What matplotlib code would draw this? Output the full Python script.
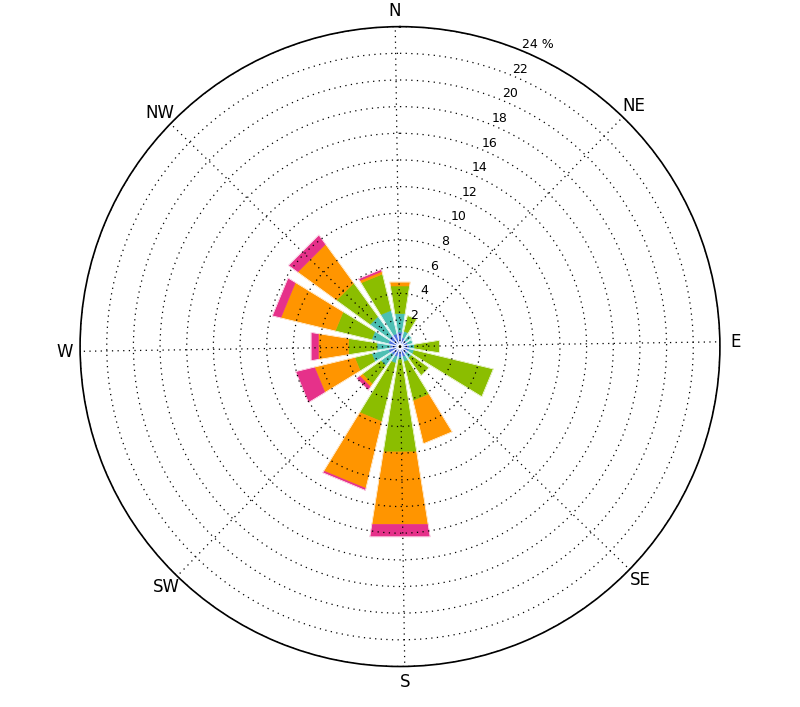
import numpy as np
import matplotlib.pyplot as plt

# wind rose, 16 sectors, frequency (%) per speed bin
directions = ["N", "NNE", "NE", "ENE", "E", "ESE", "SE", "SSE",
              "S", "SSW", "SW", "WSW", "W", "WNW", "NW", "NNW"]
blue    = [1.1, 0.7, 0.6, 0.6, 0.7, 0.7, 0.7, 0.8, 0.8, 0.8, 0.8, 0.9, 0.75, 0.9, 1.0, 1.0]
teal    = [1.4, 0.5, 0.5, 0.4, 0.4, 0.4, 0.4, 0.4, 0.2, 0.5, 1.0, 1.3, 1.0, 1.3, 1.8, 1.8]
green   = [2.1, 1.2, 0.0, 0.0, 1.9, 6.1, 1.6, 3.0, 7.0, 4.5, 1.7, 1.3, 2.15, 2.8, 3.1, 2.8]
orange  = [0.3, 0.0, 0.0, 0.0, 0.0, 0.0, 0.0, 3.3, 5.5, 5.15, 0.25, 3.1, 2.3, 4.2, 3.6, 0.2]
magenta = [0.0, 0.0, 0.0, 0.0, 0.0, 0.0, 0.0, 0.0, 0.95, 0.15, 0.3, 1.45, 0.55, 0.65, 0.85, 0.16]

bins = [blue, teal, green, orange, magenta]
colors = ["#4f6fdf", "#4dbfb3", "#8bbe00", "#ff9500", "#e6318a"]

compass = ["N", "NE", "E", "SE", "S", "SW", "W", "NW"]
rticks = np.arange(2, 26, 2)

fig = plt.figure(figsize=(8, 7.07), dpi=100)
ax = fig.add_axes([0.1, 0.0573, 0.8, 0.905], projection="polar")
ax.set_theta_zero_location("N")
ax.set_theta_direction(-1)

n = len(directions)
theta = np.radians(np.arange(n) * 360.0 / n)
half = np.radians(360.0 / n * 0.8) / 2
bottom = np.zeros(n)
for vals, c in zip(bins, colors):
    for i, (t, b, h) in enumerate(zip(theta, bottom, vals)):
        if h <= 0:
            continue
        # straight-edged sectors, like the old windrose bars
        ax.fill([t - half, t + half, t + half, t - half],
                [b, b, b + h, b + h], color=c, ec=c, lw=0.4, zorder=1)
    bottom = bottom + np.array(vals)

# thin white outline round each whole sector (gaps near the centre)
for t, tot in zip(theta, bottom):
    ax.fill([t - half, t + half, t + half, t - half], [0, 0, tot, tot],
            fc="none", ec="white", lw=0.5, zorder=1.2)

ax.set_ylim(0, 24)
ax.set_yticks(rticks)
ax.set_yticklabels([])
# the angular grid in the source is a hair off true north
ax.set_thetagrids((np.arange(0, 360, 45) - 0.85) % 360, compass, fontsize=12)
ax.set_thetalim(0, 2 * np.pi)
ax.tick_params(axis="x", pad=0.5)
ax.set_axisbelow(False)
ax.grid(True, color="black", linestyle=(0, (1, 3.5)), linewidth=0.9)
ax.spines["polar"].set_linewidth(1.2)

for r in rticks:
    lab = str(r) if r != rticks[-1] else "%d %%" % r
    ax.text(np.radians(22.5), r, lab, ha="left", va="bottom", fontsize=9)

fig.savefig("out.png")
